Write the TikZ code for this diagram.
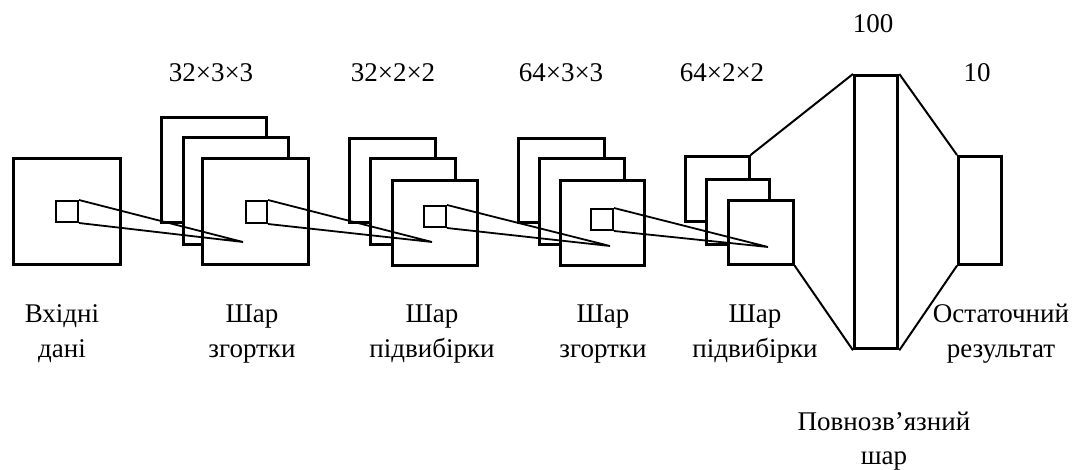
\documentclass[tikz,border=0pt]{standalone}
\usepackage{fontspec}
\setmainfont{Liberation Serif}
\begin{document}
\begin{tikzpicture}[x=1pt,y=-1pt,
  sq/.style={draw, fill=white, line width=2.6pt, inner sep=0pt, anchor=north west},
  win/.style={draw, line width=2pt, inner sep=0pt, anchor=north west},
  fcbox/.style={draw, fill=white, line width=3.3pt, inner sep=0pt, anchor=north west},
  ray/.style={line width=1.8pt},
  link/.style={line width=2pt},
  lbl/.style={anchor=base, inner sep=0pt, font=\fontsize{27}{35}\selectfont}]
\useasboundingbox (0,0) rectangle (1077,470);
\setlength{\tabcolsep}{0pt}
% input
\node[sq, minimum width=107pt, minimum height=106pt] (in) at (12,157) {};
% conv 1
\node[sq, minimum width=105pt, minimum height=105pt] (c1a) at (160,116) {};
\node[sq, minimum width=105pt, minimum height=107pt] (c1b) at (182,136) {};
\node[sq, minimum width=106pt, minimum height=106pt] (c1c) at (201,157) {};
% pool 1
\node[sq, minimum width=86pt, minimum height=84pt] (p1a) at (348,137) {};
\node[sq, minimum width=85pt, minimum height=86pt] (p1b) at (369,157) {};
\node[sq, minimum width=85pt, minimum height=85pt] (p1c) at (391,179) {};
% conv 2
\node[sq, minimum width=86pt, minimum height=84pt] (c2a) at (517,137) {};
\node[sq, minimum width=85pt, minimum height=86pt] (c2b) at (538,157) {};
\node[sq, minimum width=84pt, minimum height=85pt] (c2c) at (559,179) {};
% pool 2
\node[sq, minimum width=64pt, minimum height=65pt] (p2a) at (684,155) {};
\node[sq, minimum width=63pt, minimum height=65pt] (p2b) at (705,178) {};
\node[sq, minimum width=65pt, minimum height=64pt] (p2c) at (727,199) {};
% fully connected and output
\node[fcbox, minimum width=43pt, minimum height=273pt] (fc) at (853,74) {};
\node[sq, minimum width=43pt, minimum height=108pt] (out) at (957,155) {};
% windows
\node[win, minimum width=22pt, minimum height=21pt] (w0) at (55,200) {};
\node[win, minimum width=21pt, minimum height=22pt] (w1) at (245,200) {};
\node[win, minimum width=22pt, minimum height=21pt] (w2) at (423,205) {};
\node[win, minimum width=22pt, minimum height=21pt] (w3) at (590,208) {};
\coordinate (t1) at (243,242);
\coordinate (t2) at (432,242);
\coordinate (t3) at (610,246);
\coordinate (t4) at (768,247);
\draw[ray] (w0.north east) -- (t1) -- (w0.south east);
\draw[ray] (w1.north east) -- (t2) -- (w1.south east);
\draw[ray] (w2.north east) -- (t3) -- (w2.south east);
\draw[ray] (w3.north east) -- (t4) -- (w3.south east);
% links to dense layers
\draw[link] (p2a.north east) -- (fc.north west);
\draw[link] (p2c.south east) -- (fc.south west);
\draw[link] (fc.north east) -- (out.north west);
\draw[link] (fc.south east) -- (out.south west);
% top labels
\node[lbl] (s1) at (211,82) {32×3×3};
\node[lbl] (s2) at (393,82) {32×2×2};
\node[lbl] (s3) at (561,82) {64×3×3};
\node[lbl] (s4) at (722,82) {64×2×2};
\node[lbl] (s5) at (873,33) {100};
\node[lbl] (s6) at (977,82) {10};
% bottom labels
\node[lbl] (l0) at (62,323) {\begin{tabular}[t]{c}Вхідні\\дані\end{tabular}};
\node[lbl] (l1) at (252,323) {\begin{tabular}[t]{c}Шар\\згортки\end{tabular}};
\node[lbl] (l2) at (432,323) {\begin{tabular}[t]{c}Шар\\підвибірки\end{tabular}};
\node[lbl] (l3) at (603,323) {\begin{tabular}[t]{c}Шар\\згортки\end{tabular}};
\node[lbl] (l4) at (755,323) {\begin{tabular}[t]{c}Шар\\підвибірки\end{tabular}};
\node[lbl] (l5) at (1001,323) {\begin{tabular}[t]{c}Остаточний\\результат\end{tabular}};
\node[lbl] (l6) at (884,430) {\begin{tabular}[t]{c}Повнозв’язний\\шар\end{tabular}};
\end{tikzpicture}
\end{document}
